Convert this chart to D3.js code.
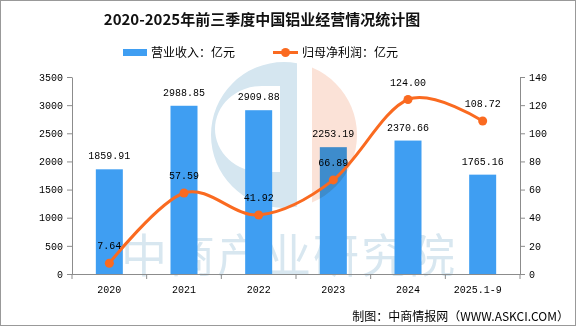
<!DOCTYPE html>
<html>
<head>
<meta charset="utf-8">
<script src="https://d3js.org/d3.v7.min.js"></script>
<style>
  body { margin: 0; background: #fff; }
  svg { display: block; }
  .num { font-family: "Liberation Mono", "DejaVu Sans Mono", monospace; font-size: 10px; fill: #000; }
  .cjk { font-family: "Noto Sans CJK SC", sans-serif; }
</style>
</head>
<body>
<div id="chart"></div>
<script>
var years = ["2020", "2021", "2022", "2023", "2024", "2025.1-9"];
var revenue = [1859.91, 2988.85, 2909.88, 2253.19, 2370.66, 1765.16];
var profit = [7.64, 57.59, 41.92, 66.89, 124.00, 108.72];
var leftTicks = [0, 500, 1000, 1500, 2000, 2500, 3000, 3500];
var rightTicks = [0, 20, 40, 60, 80, 100, 120, 140];

var width = 576, height = 326;
var plotLeft = 72, plotRight = 520, plotTop = 77, plotBottom = 274;
var barColor = "#3f9ef2", lineColor = "#fa6a20", axisColor = "#8c8c8c";

var svg = d3.select("#chart").append("svg")
    .attr("width", width)
    .attr("height", height);

svg.append("rect")
    .attr("x", 0.5).attr("y", 0.5)
    .attr("width", width - 1).attr("height", height - 1)
    .attr("fill", "#fff").attr("stroke", "#999");

var x = d3.scaleBand().domain(years).range([plotLeft, plotRight]).paddingInner(0).paddingOuter(0);
var yL = d3.scaleLinear().domain([0, 3500]).range([plotBottom, plotTop]);
var yR = d3.scaleLinear().domain([0, 140]).range([plotBottom, plotTop]);

// watermark text behind the marks
svg.append("text")
    .attr("class", "cjk")
    .attr("x", 121).attr("y", 272)
    .attr("font-size", 46)
    .attr("letter-spacing", 2)
    .attr("fill", "#d8e7f0")
    .text("中商产业研究院");

// logo watermark (blue half) behind the marks
var cx = 284, cy = 135, R = 73;
var logo = svg.append("g");
logo.append("clipPath").attr("id", "clipBlue")
    .append("rect").attr("x", cx - R).attr("y", cy - R).attr("width", 297 - (cx - R)).attr("height", 2 * R);
logo.append("clipPath").attr("id", "clipPeach")
    .append("rect").attr("x", 312).attr("y", cy - R).attr("width", R).attr("height", 2 * R);
logo.append("path")
    .attr("d", "M" + (cx - R) + "," + cy + "a" + R + "," + R + " 0 1,0 " + (2 * R) + ",0a" + R + "," + R + " 0 1,0 " + (-2 * R) + ",0Z" +
               "M280,86 L280,172 L262,172 A47,43 0 0,1 262,86 Z")
    .attr("fill-rule", "evenodd")
    .attr("fill", "#d5e6f0")
    .attr("clip-path", "url(#clipBlue)");

// title
svg.append("text")
    .attr("class", "cjk")
    .attr("x", 262).attr("y", 25)
    .attr("text-anchor", "middle")
    .attr("font-size", 15).attr("font-weight", "bold")
    .attr("fill", "#111")
    .text("2020-2025年前三季度中国铝业经营情况统计图");

// legend
var lg = svg.append("g");
lg.append("rect").attr("x", 123).attr("y", 49).attr("width", 24).attr("height", 7).attr("fill", barColor);
lg.append("text").attr("class", "cjk").attr("x", 151).attr("y", 56.5).attr("font-size", 12).text("营业收入：亿元");
lg.append("line").attr("x1", 273).attr("x2", 298).attr("y1", 52.5).attr("y2", 52.5)
    .attr("stroke", lineColor).attr("stroke-width", 3);
lg.append("circle").attr("cx", 285.5).attr("cy", 52.5).attr("r", 4.5).attr("fill", lineColor);
lg.append("text").attr("class", "cjk").attr("x", 302).attr("y", 56.5).attr("font-size", 12).text("归母净利润：亿元");

// bars
var bw = 27;
svg.append("g").selectAll("rect").data(revenue).join("rect")
    .attr("x", function(d, i) { return x(years[i]) + x.bandwidth() / 2 - bw / 2; })
    .attr("y", function(d) { return yL(d); })
    .attr("width", bw)
    .attr("height", function(d) { return plotBottom - yL(d); })
    .attr("fill", barColor);

// peach half of logo, multiplied so it tints the bar it crosses
svg.append("circle")
    .attr("cx", cx).attr("cy", cy).attr("r", R)
    .attr("fill", "#fbe2d7")
    .attr("clip-path", "url(#clipPeach)")
    .style("mix-blend-mode", "multiply");

// axes
function styleAxis(g) {
    g.selectAll("path, line").attr("stroke", axisColor);
    g.selectAll("text").attr("class", "num").attr("font-size", null).attr("font-family", null).attr("fill", "#000");
}
svg.append("g").attr("transform", "translate(" + plotLeft + ",0)")
    .call(d3.axisLeft(yL).tickValues(leftTicks).tickFormat(d3.format("d")).tickSize(5).tickSizeOuter(0).tickPadding(4))
    .call(styleAxis);
svg.append("g").attr("transform", "translate(" + plotRight + ",0)")
    .call(d3.axisRight(yR).tickValues(rightTicks).tickFormat(d3.format("d")).tickSize(5).tickSizeOuter(0).tickPadding(4))
    .call(styleAxis);

var xg = svg.append("g").attr("transform", "translate(0," + plotBottom + ")");
xg.append("line").attr("x1", plotLeft - 5).attr("x2", plotRight + 5).attr("y1", 0.5).attr("y2", 0.5).attr("stroke", axisColor);
var bounds = years.map(function(d) { return x(d); }).concat([plotRight]);
xg.selectAll("line.tk").data(bounds).join("line")
    .attr("class", "tk")
    .attr("x1", function(d) { return d; }).attr("x2", function(d) { return d; })
    .attr("y1", 0).attr("y2", 5).attr("stroke", axisColor);
xg.selectAll("text").data(years).join("text")
    .attr("class", "num")
    .attr("x", function(d) { return x(d) + x.bandwidth() / 2 - (d.length > 4 ? 5 : 0); })
    .attr("y", 19)
    .attr("text-anchor", "middle")
    .text(function(d) { return d; });

// line
var pts = profit.map(function(d, i) { return [x(years[i]) + x.bandwidth() / 2, yR(d)]; });
svg.append("path")
    .attr("d", d3.line().curve(d3.curveCardinal.tension(0))(pts))
    .attr("fill", "none")
    .attr("stroke", lineColor)
    .attr("stroke-width", 3);
svg.append("g").selectAll("circle").data(pts).join("circle")
    .attr("cx", function(d) { return d[0]; })
    .attr("cy", function(d) { return d[1]; })
    .attr("r", 4.5)
    .attr("fill", lineColor);

// data labels
svg.append("g").selectAll("text").data(revenue).join("text")
    .attr("class", "num")
    .attr("x", function(d, i) { return x(years[i]) + x.bandwidth() / 2; })
    .attr("y", function(d) { return yL(d) - 10; })
    .attr("text-anchor", "middle")
    .text(function(d) { return d.toFixed(2); });
svg.append("g").selectAll("text").data(profit).join("text")
    .attr("class", "num")
    .attr("x", function(d, i) { return pts[i][0]; })
    .attr("y", function(d, i) { return pts[i][1] - 14; })
    .attr("text-anchor", "middle")
    .text(function(d) { return d.toFixed(2); });

// source
svg.append("text")
    .attr("class", "cjk")
    .attr("x", 569).attr("y", 321)
    .attr("text-anchor", "end")
    .attr("font-size", 12)
    .text("制图：中商情报网（WWW.ASKCI.COM）");
</script>
</body>
</html>
